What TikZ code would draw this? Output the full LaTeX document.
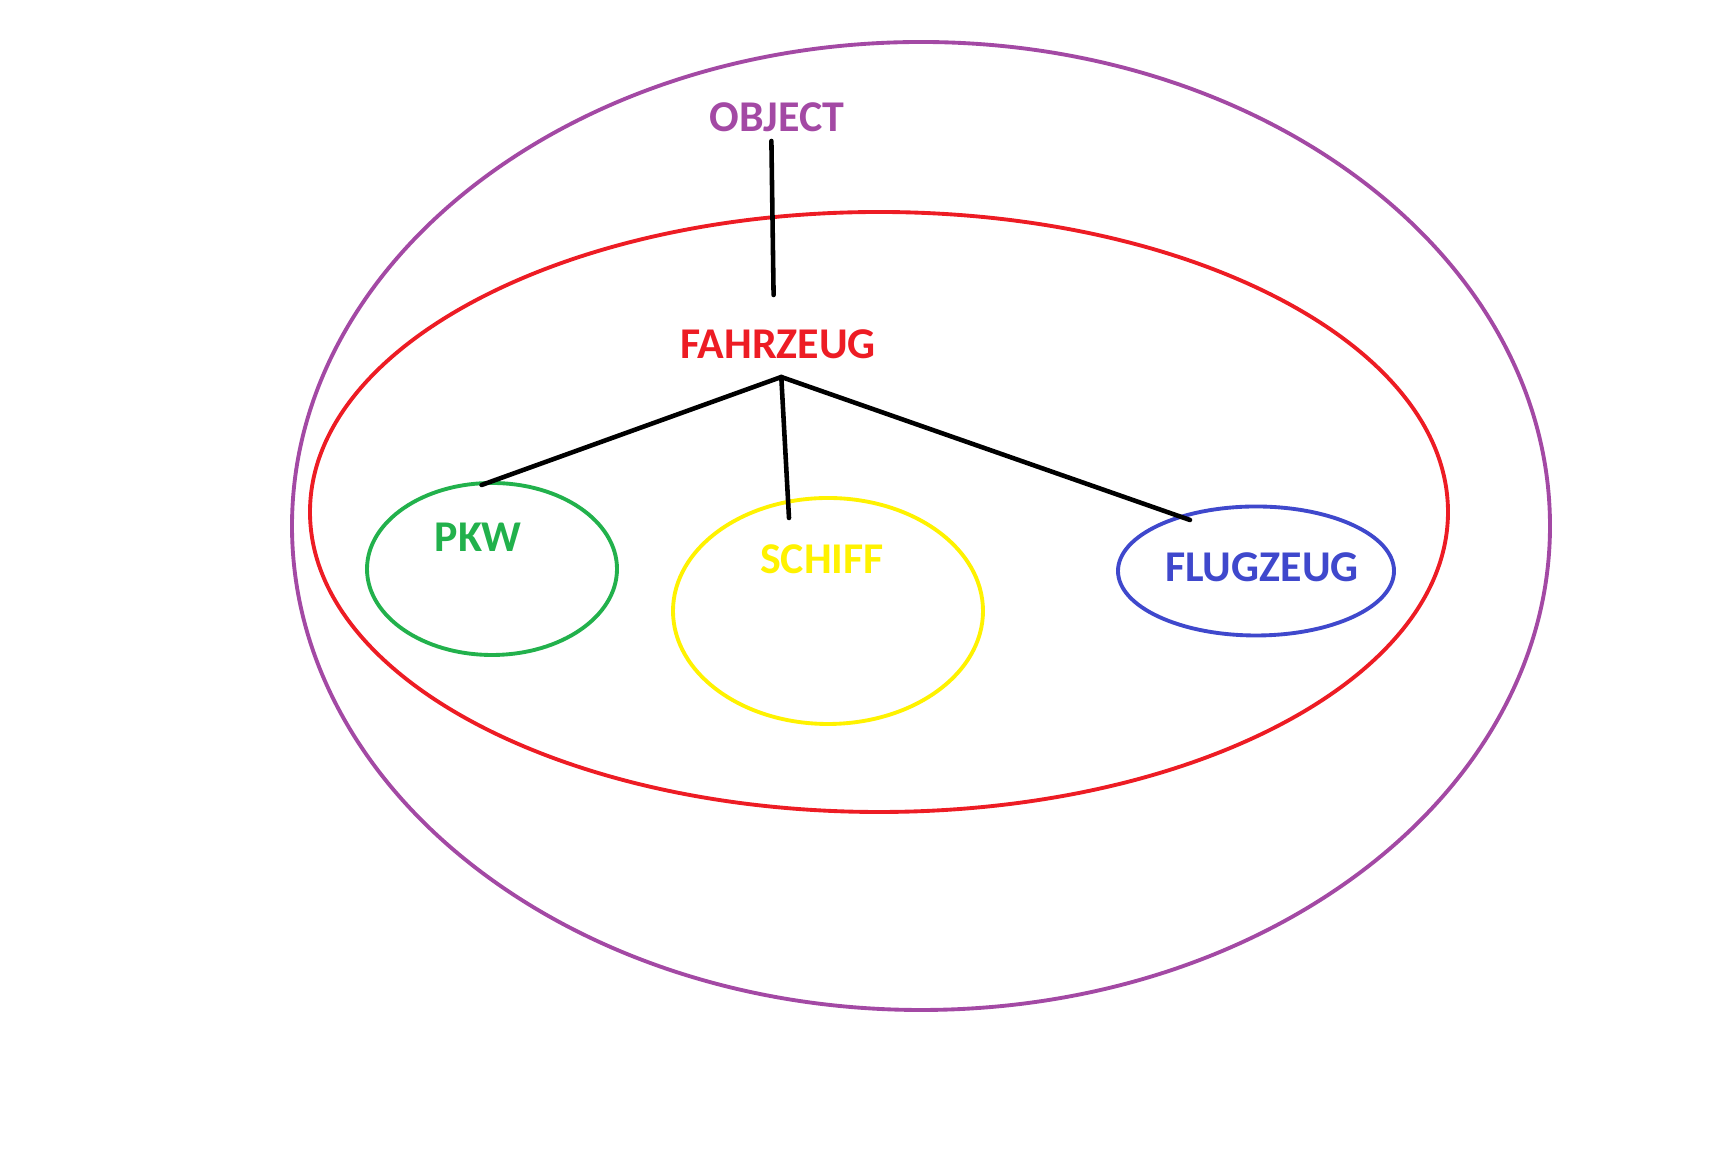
\documentclass[tikz,border=0pt]{standalone}
\usepackage{fontspec}
\setmainfont{Carlito}
\usetikzlibrary{calc,positioning}
\definecolor{paintpurple}{RGB}{163,73,164}
\definecolor{paintred}{RGB}{237,28,36}
\definecolor{paintgreen}{RGB}{34,177,76}
\definecolor{paintyellow}{RGB}{255,242,0}
\definecolor{paintblue}{RGB}{63,72,204}
\tikzset{
    set/.style={line width=1.1pt},
    setname/.style={font=\fontsize{12.5}{14}\selectfont\bfseries, inner sep=1pt},
    link/.style={line width=1.3pt, line cap=round},
  }

\begin{document}
\begin{tikzpicture}
      \useasboundingbox (0,0) rectangle (17.28,11.52);

      % sets
      \draw[set, paintpurple] (9.21, 6.26) ellipse [x radius=6.29, y radius=4.84];
      \draw[set, paintred]    (8.79, 6.40) ellipse [x radius=5.69, y radius=3.00];
      \draw[set, paintgreen]  (4.92, 5.83) ellipse [x radius=1.25, y radius=0.86];
      \draw[set, paintyellow] (8.28, 5.41) ellipse [x radius=1.55, y radius=1.13];
      \draw[set, paintblue]   (12.56, 5.81) ellipse [x radius=1.38, y radius=0.645];

      % set names
      \node[setname, text=paintpurple] (object)   at (7.77, 10.35) {OBJECT};
      \node[setname, text=paintred]    (fahrzeug) at (7.78, 8.08)  {FAHRZEUG};
      \node[setname, text=paintgreen]  (pkw)      at (4.78, 6.15)  {PKW};
      \node[setname, text=paintyellow] (schiff)   at (8.22, 5.93)  {SCHIFF};
      \node[setname, text=paintblue]   (flugzeug) at (12.62, 5.845) {FLUGZEUG};

      % line ends
      \coordinate (objfoot) at (7.714, 10.11);
      \coordinate (fzgtop)  at (7.736, 8.57);
      \coordinate (fzghub)  at (7.813, 7.75);
      \coordinate (pkwtop)  at (4.816, 6.67);
      \coordinate (shptop)  at (7.89, 6.34);
      \coordinate (flgtop)  at (11.90, 6.32);

      % hierarchy
      \draw[link] (objfoot) -- (fzgtop);
      \draw[link] (fzghub) -- (pkwtop);
      \draw[link] (fzghub) -- (shptop);
      \draw[link] (fzghub) -- (flgtop);
\end{tikzpicture}
\end{document}
